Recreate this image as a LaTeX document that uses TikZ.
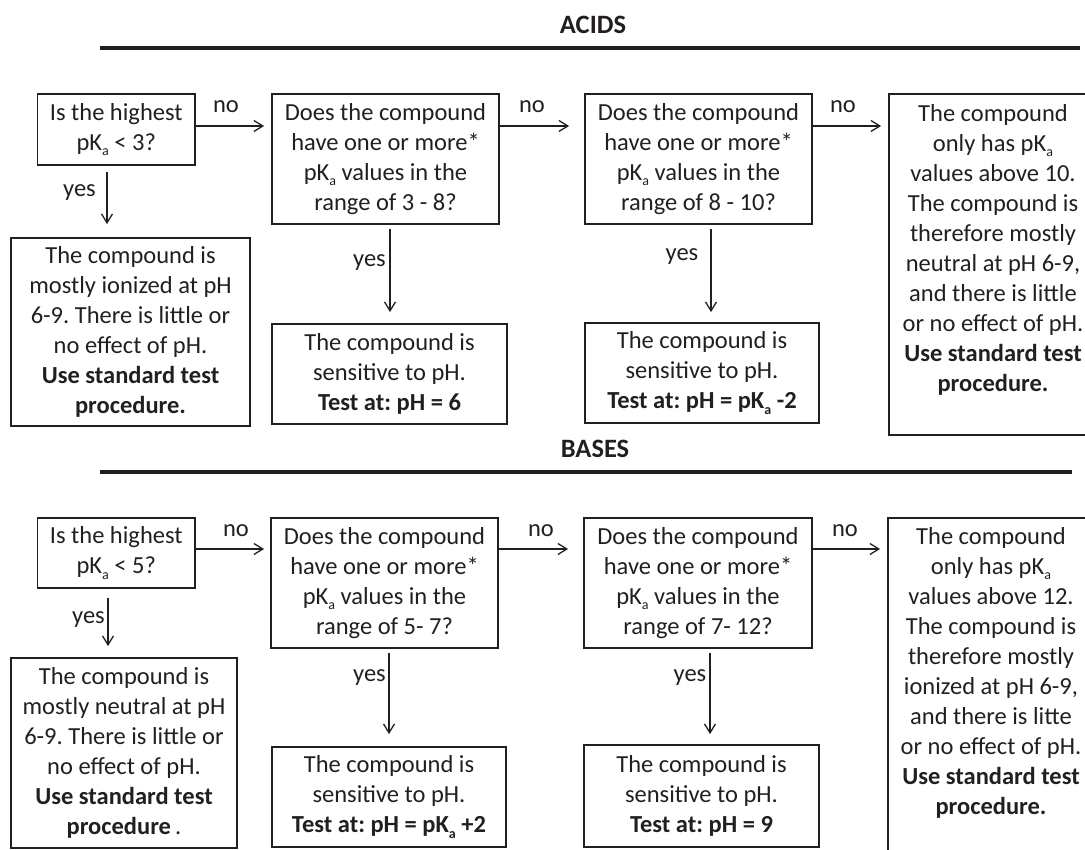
\documentclass[tikz,border=0pt]{standalone}
\usepackage{fontspec}
\setmainfont{Carlito}
\usetikzlibrary{arrows.meta}
\definecolor{ink}{HTML}{231F20}
\newcommand\pka{pK\raisebox{-0.22em}{\fontsize{14}{14}\selectfont a}}
\frenchspacing
\begin{document}
\begin{tikzpicture}[x=1pt,y=-1pt,
  every node/.style={font=\fontsize{24.5}{30}\selectfont, text=ink},
  box/.style={draw=ink, line width=1.8pt, align=center, inner sep=0pt, anchor=center},
  txt/.style={align=center, inner sep=0pt, anchor=north},
  arr/.style={draw=ink, line width=1.3pt, -{Straight Barb[length=9pt,width=11pt,line width=1.3pt]}},
  lbl/.style={anchor=base, inner sep=0pt},
  ylbl/.style={anchor=base east, inner sep=0pt},
  head/.style={font=\fontsize{26.5}{30}\bfseries\selectfont, inner sep=0pt},
  rule/.style={draw=ink, line width=4pt}]
\useasboundingbox (0,0) rectangle (1085,850);

% headers
\node[head] (acids) at (593,25) {ACIDS};
\draw[rule] (100,48) -- (1080,48);
\node[head] (bases) at (595,449) {BASES};
\draw[rule] (100,472) -- (1072,472);

% ---------- ACIDS ----------
\node[box, minimum width=157.5pt, minimum height=71pt] (A1) at (116.25,129.5)
  {Is the highest\\\pka{} < 3?};
\node[box, minimum width=227pt, minimum height=130pt] (A2) at (385.5,159)
  {Does the compound\\have one or more*\\\pka{} values in the\\range of 3 - 8?};
\node[box, minimum width=227pt, minimum height=130pt] (A3) at (698.5,159)
  {Does the compound\\have one or more*\\\pka{} values in the\\range of 8 - 10?};
\node[box, minimum width=208pt, minimum height=341pt] (A4) at (993,264.5) {};
\node[txt] (A4t) at (993,104)
  {The compound\\only has \pka\\values above 10.\\The compound is\\therefore mostly\\neutral at pH 6-9,\\and there is little\\or no effect of pH.\\\textbf{Use standard test}\\\textbf{procedure.}};

\node[box, minimum width=239pt, minimum height=188pt] (A1y) at (130.5,332)
  {The compound is\\mostly ionized at pH\\6-9. There is little or\\no effect of pH.\\\textbf{Use standard test}\\\textbf{procedure.}};
\node[box, minimum width=235pt, minimum height=100pt] (A2y) at (389.5,374)
  {The compound is\\sensitive to pH.\\\textbf{Test at: pH = 6}};
\node[box, minimum width=234pt, minimum height=100pt] (A3y) at (702,373)
  {The compound is\\sensitive to pH.\\\textbf{Test at: pH = \pka{} -2}};

\coordinate (ay) at (0,126);
\draw[arr, shorten >=7pt] (A1.east |- ay) -- (A2.west |- ay);
\draw[arr, shorten >=15pt] (A2.east |- ay) -- (A3.west |- ay);
\draw[arr, shorten >=7pt] (A3.east |- ay) -- (A4.west |- ay);
\node[lbl] (nA1) at (226,113) {no};
\node[lbl] (nA2) at (532,113) {no};
\node[lbl] (nA3) at (843,113) {no};

\draw[arr, shorten <=6pt, shorten >=13pt] ([xshift=-9.25pt]A1.south) -- ([xshift=-9.25pt]A1.south |- A1y.north);
\draw[arr, shorten <=4pt, shorten >=11pt] ([xshift=4.5pt]A2.south) -- ([xshift=4.5pt]A2.south |- A2y.north);
\draw[arr, shorten <=4pt, shorten >=10pt] ([xshift=12.5pt]A3.south) -- ([xshift=12.5pt]A3.south |- A3y.north);
\node[ylbl] (yA1) at (96,196.5) {yes};
\node[ylbl] (yA2) at (386,266.5) {yes};
\node[ylbl] (yA3) at (698.5,260.5) {yes};

% ---------- BASES ----------
\node[box, minimum width=157.5pt, minimum height=70pt] (B1) at (116.25,553)
  {Is the highest\\\pka{} < 5?};
\node[box, minimum width=227pt, minimum height=130pt] (B2) at (384.5,583)
  {Does the compound\\have one or more*\\\pka{} values in the\\range of 5- 7?};
\node[box, minimum width=228pt, minimum height=130pt] (B3) at (698,583)
  {Does the compound\\have one or more*\\\pka{} values in the\\range of 7- 12?};
\node[box, minimum width=206pt, minimum height=362pt] (B4) at (991,699) {};
\node[txt] (B4t) at (991,527)
  {The compound\\only has \pka\\values above 12.\\The compound is\\therefore mostly\\ionized at pH 6-9,\\and there is litte\\or no effect of pH.\\\textbf{Use standard test}\\\textbf{procedure.}};

\node[box, minimum width=226pt, minimum height=190pt] (B1y) at (124,753)
  {The compound is\\mostly neutral at pH\\6-9. There is little or\\no effect of pH.\\\textbf{Use standard test}\\\textbf{procedure}\,.};
\node[box, minimum width=234pt, minimum height=100pt] (B2y) at (389,797)
  {The compound is\\sensitive to pH.\\\textbf{Test at: pH = \pka{} +2}};
\node[box, minimum width=235pt, minimum height=102pt] (B3y) at (701.5,796)
  {The compound is\\sensitive to pH.\\\textbf{Test at: pH = 9}};

\coordinate (by) at (0,549);
\draw[arr, shorten >=6pt] (B1.east |- by) -- (B2.west |- by);
\draw[arr, shorten >=15pt] (B2.east |- by) -- (B3.west |- by);
\draw[arr, shorten >=7pt] (B3.east |- by) -- (B4.west |- by);
\node[lbl] (nB1) at (236,536) {no};
\node[lbl] (nB2) at (541,536) {no};
\node[lbl] (nB3) at (845,536) {no};

\draw[arr, shorten <=9pt, shorten >=11pt] ([xshift=-8.25pt]B1.south) -- ([xshift=-8.25pt]B1.south |- B1y.north);
\draw[arr, shorten <=4pt, shorten >=12pt] ([xshift=4.5pt]B2.south) -- ([xshift=4.5pt]B2.south |- B2y.north);
\draw[arr, shorten <=4pt, shorten >=10pt] ([xshift=12pt]B3.south) -- ([xshift=12pt]B3.south |- B3y.north);
\node[ylbl] (yB1) at (105,623.5) {yes};
\node[ylbl] (yB2) at (386,681.5) {yes};
\node[ylbl] (yB3) at (706.5,681.5) {yes};
\end{tikzpicture}
\end{document}
